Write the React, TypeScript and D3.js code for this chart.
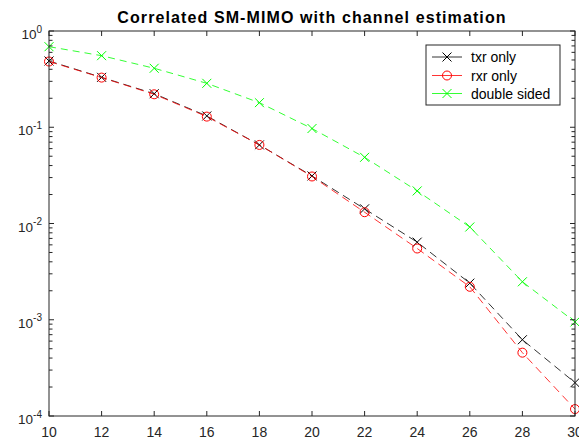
import React, { useEffect, useRef } from 'react';
import * as d3 from 'd3';

// SNR (dB) on the x axis
const snr = [10, 12, 14, 16, 18, 20, 22, 24, 26, 28, 30];

// error rates
const txrOnly = [0.488, 0.33, 0.223, 0.131, 0.0655, 0.0312, 0.0142, 0.0064, 0.0024, 0.00062, 0.000222];
const rxrOnly = [0.482, 0.328, 0.22, 0.129, 0.0655, 0.0308, 0.0131, 0.0055, 0.0022, 0.000455, 0.000118];
const doubleSided = [0.687, 0.554, 0.41, 0.286, 0.18, 0.097, 0.0487, 0.0218, 0.0092, 0.00248, 0.00095];

const xTicks = [10, 12, 14, 16, 18, 20, 22, 24, 26, 28, 30];
const yExponents = [0, -1, -2, -3, -4];
const seriesNames = ['txr only', 'rxr only', 'double sided'];
const titleText = 'Correlated SM-MIMO with channel estimation';

const W = 579;
const H = 439;
const margin = { top: 31, right: 4, bottom: 23, left: 49 };
const axisColor = '#262626';
const font = 'Arial, "Liberation Sans", Helvetica, sans-serif';

export default function App() {
  const svgRef = useRef<SVGSVGElement>(null);

  useEffect(() => {
    if (!svgRef.current) return;
    const svg = d3.select(svgRef.current);
    svg.selectAll('*').remove();

    const x = d3.scaleLinear().domain([10, 30]).range([margin.left, W - margin.right]);
    const y = d3.scaleLog().domain([1e-4, 1]).range([H - margin.bottom, margin.top]);
    const [x0, x1] = x.range();
    const [yb, yt] = y.range();

    svg.append('rect').attr('width', W).attr('height', H).attr('fill', 'white');

    const series = [
      { name: seriesNames[0], values: txrOnly, color: '#000000', marker: 'x', dash: '8,5' },
      { name: seriesNames[1], values: rxrOnly, color: '#ff0000', marker: 'o', dash: '8,5' },
      { name: seriesNames[2], values: doubleSided, color: '#00ff00', marker: 'x', dash: '7,5' },
    ];

    const line = d3.line<number>().x((_, i) => x(snr[i])).y(d => y(d));

    const drawMarker = (g: any, type: string, cx: number, cy: number, color: string) => {
      if (type === 'o') {
        g.append('circle').attr('cx', cx).attr('cy', cy).attr('r', 4.5)
          .attr('fill', 'none').attr('stroke', color).attr('stroke-width', 1);
      } else {
        const s = 4.5;
        g.append('path')
          .attr('d', `M${cx - s},${cy - s}L${cx + s},${cy + s}M${cx - s},${cy + s}L${cx + s},${cy - s}`)
          .attr('stroke', color).attr('stroke-width', 1).attr('fill', 'none');
      }
    };

    // series
    const plot = svg.append('g');
    series.forEach(s => {
      plot.append('path')
        .attr('d', line(s.values) || '')
        .attr('fill', 'none')
        .attr('stroke', s.color)
        .attr('stroke-width', 0.8)
        .attr('stroke-dasharray', s.dash);
      s.values.forEach((v, i) => drawMarker(plot, s.marker, x(snr[i]), y(v), s.color));
    });

    // axes box and ticks (MATLAB style, inward)
    const ax = svg.append('g').attr('stroke', axisColor).attr('fill', 'none').attr('stroke-width', 1);
    ax.append('rect').attr('x', x0).attr('y', yt).attr('width', x1 - x0).attr('height', yb - yt);

    const majorLen = 5;
    const minorLen = 3.5;
    xTicks.forEach(t => {
      const px = x(t);
      ax.append('line').attr('x1', px).attr('x2', px).attr('y1', yb).attr('y2', yb - majorLen);
      ax.append('line').attr('x1', px).attr('x2', px).attr('y1', yt).attr('y2', yt + majorLen);
    });
    yExponents.forEach(e => {
      const py = y(Math.pow(10, e));
      ax.append('line').attr('x1', x0).attr('x2', x0 + majorLen).attr('y1', py).attr('y2', py);
      ax.append('line').attr('x1', x1).attr('x2', x1 - majorLen).attr('y1', py).attr('y2', py);
      if (e > -4) {
        for (let m = 2; m <= 9; m++) {
          const pm = y(m * Math.pow(10, e - 1));
          ax.append('line').attr('x1', x0).attr('x2', x0 + minorLen).attr('y1', pm).attr('y2', pm);
          ax.append('line').attr('x1', x1).attr('x2', x1 - minorLen).attr('y1', pm).attr('y2', pm);
        }
      }
    });

    // tick labels
    const labels = svg.append('g').attr('font-family', font).attr('fill', axisColor);
    xTicks.forEach(t => {
      labels.append('text')
        .attr('x', x(t)).attr('y', yb + 21)
        .attr('text-anchor', 'middle').attr('font-size', 14)
        .text(t);
    });
    yExponents.forEach(e => {
      const py = y(Math.pow(10, e));
      const txt = labels.append('text')
        .attr('x', 42).attr('y', py + 8)
        .attr('text-anchor', 'end').attr('font-size', 13.5);
      txt.append('tspan').text('10');
      txt.append('tspan').attr('dy', -6.5).attr('font-size', 10).text(String(e));
    });

    // title
    svg.append('text')
      .attr('x', (x0 + x1) / 2).attr('y', 23)
      .attr('text-anchor', 'middle')
      .attr('font-family', font).attr('font-weight', 'bold').attr('font-size', 16)
      .attr('letter-spacing', 1.1)
      .attr('fill', '#000')
      .text(titleText);

    // legend
    const lg = svg.append('g');
    lg.append('rect').attr('x', 426).attr('y', 45).attr('width', 134).attr('height', 60)
      .attr('fill', 'white').attr('stroke', axisColor).attr('stroke-width', 1);
    const rowY = [57, 75.5, 93.5];
    series.forEach((s, i) => {
      const ly = rowY[i];
      lg.append('line').attr('x1', 432).attr('x2', 462).attr('y1', ly).attr('y2', ly)
        .attr('stroke', s.color).attr('stroke-width', 0.8);
      drawMarker(lg, s.marker, 447, ly, s.color);
      lg.append('text').attr('x', 471).attr('y', ly + 5)
        .attr('font-family', font).attr('font-size', 14).attr('fill', '#000')
        .text(s.name);
    });
  }, []);

  return (
    <svg
      ref={svgRef}
      width={W}
      height={H}
      style={{ position: 'absolute', left: 0, top: 0, display: 'block' }}
    />
  );
}
